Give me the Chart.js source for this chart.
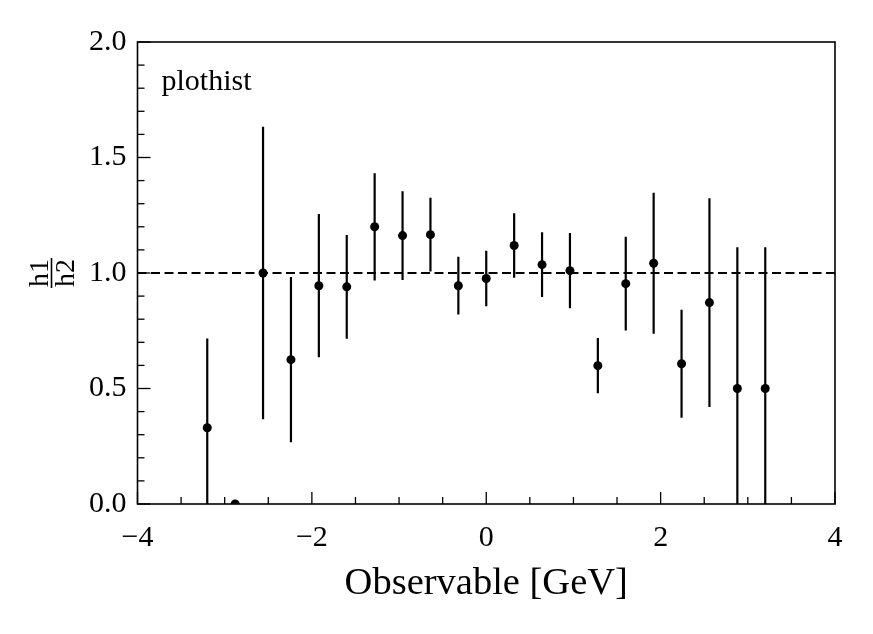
<!DOCTYPE html>
<html>
<head>
<meta charset="utf-8">
<script src="https://cdn.jsdelivr.net/npm/chart.js@4"></script>
<style>
  html, body { margin: 0; padding: 0; background: #fff; }
  #wrap { width: 873px; height: 634px; }
</style>
</head>
<body>
<div id="wrap"><canvas id="ratioChart"></canvas></div>
<script>
// ratio h1/h2 per bin (bin width 0.32)
const binCenters = [-3.2, -2.88, -2.56, -2.24, -1.92, -1.6, -1.28, -0.96, -0.64, -0.32, 0,
                    0.32, 0.64, 0.96, 1.28, 1.6, 1.92, 2.24, 2.56, 2.88, 3.2];
const ratio = [0.33, 0.0, 1.0, 0.625, 0.945, 0.94, 1.2, 1.162, 1.166, 0.945, 0.976,
               1.119, 1.036, 1.01, 0.599, 0.954, 1.042, 0.607, 0.872, 0.5, 0.5];
const ratioErr = [0.386, 0.0, 0.633, 0.358, 0.31, 0.225, 0.232, 0.192, 0.16, 0.125, 0.12,
                  0.14, 0.14, 0.163, 0.12, 0.203, 0.305, 0.234, 0.452, 0.611, 0.611];

// reference line at ratio = 1
const refX = [-4, 4];
const refY = [1, 1];

const xMajorTicks = [-4, -2, 0, 2, 4];
const yMajorTicks = [0, 0.5, 1.0, 1.5, 2.0];

const serif = "'Liberation Serif', 'DejaVu Serif', serif";

const points = binCenters.map((x, i) => ({ x: x, y: ratio[i] }));
const refLine = refX.map((x, i) => ({ x: x, y: refY[i] }));

// vertical error bars, clipped to the plot area
const errorBars = {
  id: 'errorBars',
  beforeDatasetsDraw(chart) {
    const { ctx, chartArea: a, scales: { x, y } } = chart;
    ctx.save();
    ctx.beginPath();
    ctx.rect(a.left, a.top, a.right - a.left, a.bottom - a.top);
    ctx.clip();
    ctx.strokeStyle = '#000';
    ctx.lineWidth = 2.2;
    binCenters.forEach((c, i) => {
      if (!ratioErr[i]) return;
      const px = x.getPixelForValue(c);
      ctx.beginPath();
      ctx.moveTo(px, y.getPixelForValue(ratio[i] - ratioErr[i]));
      ctx.lineTo(px, y.getPixelForValue(ratio[i] + ratioErr[i]));
      ctx.stroke();
    });
    ctx.restore();
  }
};

// frame, inward ticks, corner text and fraction y label
const frame = {
  id: 'frame',
  afterDraw(chart) {
    const { ctx, chartArea: a, scales: { x, y } } = chart;
    ctx.save();
    ctx.strokeStyle = '#000';

    // minor + major ticks pointing in
    ctx.lineWidth = 1.3;
    for (let v = -4; v <= 4.001; v += 0.5) {
      const major = Math.abs(v / 2 - Math.round(v / 2)) < 1e-6;
      const px = x.getPixelForValue(v);
      ctx.beginPath();
      ctx.moveTo(px, a.bottom);
      ctx.lineTo(px, a.bottom - (major ? 12 : 7));
      ctx.stroke();
    }
    for (let k = 0; k <= 20; k++) {
      const v = k / 10;
      const major = k % 5 === 0;
      const py = y.getPixelForValue(v);
      ctx.beginPath();
      ctx.moveTo(a.left, py);
      ctx.lineTo(a.left + (major ? 13 : 7), py);
      ctx.stroke();
    }

    ctx.lineWidth = 1.6;
    ctx.strokeRect(a.left, a.top, a.right - a.left, a.bottom - a.top);

    ctx.fillStyle = '#000';
    ctx.font = '30px ' + serif;
    ctx.textAlign = 'left';
    ctx.textBaseline = 'alphabetic';
    ctx.fillText('plothist', a.left + 24, a.top + 48);

    // y title: h1 over h2, rotated
    const cx = 51.5, cy = (a.top + a.bottom) / 2;
    ctx.translate(cx, cy);
    ctx.rotate(-Math.PI / 2);
    ctx.font = '28px ' + serif;
    ctx.textAlign = 'center';
    ctx.fillText('h1', 0, -4);
    ctx.fillText('h2', 0, 22);
    ctx.lineWidth = 1.6;
    ctx.beginPath();
    ctx.moveTo(-15, 0);
    ctx.lineTo(15, 0);
    ctx.stroke();
    ctx.restore();
  }
};

const ctx = document.getElementById('ratioChart').getContext('2d');
new Chart(ctx, {
  type: 'scatter',
  data: {
    datasets: [{
      label: 'h1 / h2',
      data: points,
      pointRadius: 4.5,
      pointHoverRadius: 4.5,
      backgroundColor: '#000',
      borderWidth: 0,
      clip: 0
    }, {
      type: 'line',
      label: 'ref',
      data: refLine,
      borderColor: '#000',
      borderWidth: 1.8,
      borderDash: [9, 4.5],
      pointRadius: 0,
      fill: false
    }]
  },
  options: {
    responsive: true,
    maintainAspectRatio: false,
    animation: false,
    layout: { padding: { top: 42, right: 38, bottom: 0, left: 0 } },
    plugins: { legend: { display: false }, tooltip: { enabled: false } },
    scales: {
      x: {
        type: 'linear',
        min: -4,
        max: 4,
        afterFit(scale) { scale.height = 130; },
        afterBuildTicks(scale) { scale.ticks = xMajorTicks.map(v => ({ value: v })); },
        grid: { display: false, drawTicks: false },
        border: { display: false },
        ticks: {
          padding: 16,
          color: '#000',
          font: { family: serif, size: 30 },
          callback: v => (v < 0 ? '\u2212' + Math.abs(v) : String(v))
        },
        title: {
          display: true,
          text: 'Observable [GeV]',
          color: '#000',
          font: { family: serif, size: 38.5 },
          padding: { top: 0, bottom: 27 }
        }
      },
      y: {
        type: 'linear',
        min: 0,
        max: 2,
        afterFit(scale) { scale.width = 137.5; },
        afterBuildTicks(scale) { scale.ticks = yMajorTicks.map(v => ({ value: v })); },
        grid: { display: false, drawTicks: false },
        border: { display: false },
        ticks: {
          padding: 11,
          color: '#000',
          font: { family: serif, size: 30 },
          callback: v => Number(v).toFixed(1)
        }
      }
    }
  },
  plugins: [errorBars, frame]
});
</script>
</body>
</html>
